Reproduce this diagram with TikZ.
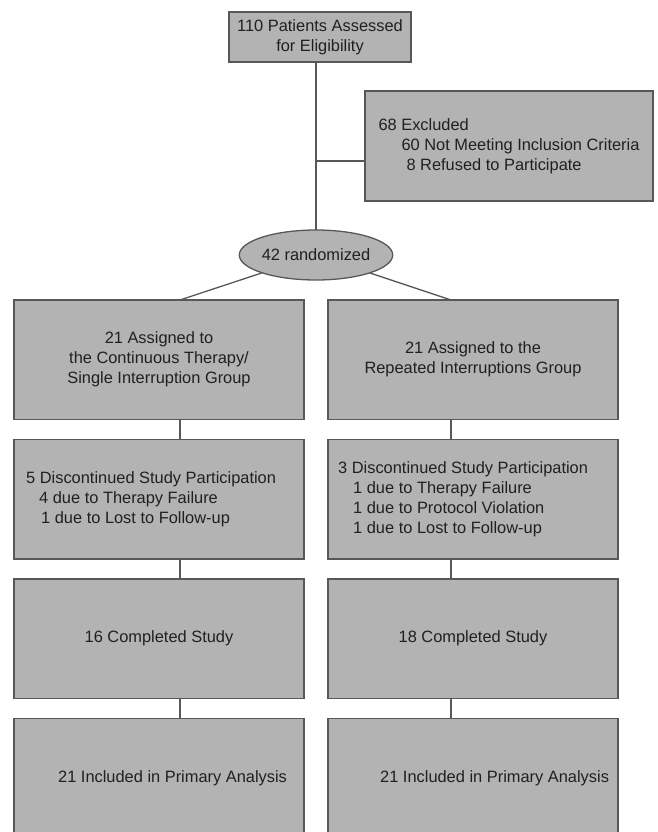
\documentclass[tikz,border=0pt]{standalone}
\usepackage{fontspec}
\setmainfont{Liberation Sans}
\usetikzlibrary{positioning,shapes.geometric,calc}
\definecolor{boxgray}{RGB}{179,179,179}
\definecolor{edgegray}{RGB}{88,88,88}
\definecolor{inkgray}{RGB}{32,32,32}
\tikzset{
    block/.style={
        draw=edgegray,
        fill=boxgray,
        rectangle,
        line width=1.3pt,
        outer sep=0pt,
        minimum width=290pt,
        minimum height=119.5pt,
        align=center,
        text=inkgray
    },
    oval/.style={
        draw=edgegray,
        fill=boxgray,
        ellipse,
        line width=1.3pt,
        outer sep=0pt,
        inner sep=0pt,
        minimum width=138pt,
        minimum height=50pt,
        text=inkgray
    },
    blocktext/.style={
        inner sep=0pt,
        align=left,
        anchor=west,
        text=inkgray
    },
    link/.style={
        draw=edgegray,
        line width=1.3pt
    },
}

\begin{document}
\begin{tikzpicture}[x=1pt, y=-1pt, node distance=20pt and 24pt, font=\fontsize{16.4pt}{20pt}\selectfont]
        \clip (0,0) rectangle (657,832);

        % blocks
        \node[block, minimum width=182pt, minimum height=50pt] (assess) at (320,37) {110 Patients Assessed\\for Eligibility};
        \node[block, minimum width=288pt, minimum height=110pt, align=left] (excl) at (509,146) {68 Excluded\\\hspace*{23pt}60 Not Meeting Inclusion Criteria\\\hspace*{28pt}8 Refused to Participate};
        \node[oval] (rand) at (316,255) {42 randomized};

        \node[block] (assignL) at (159,359.75) {21 Assigned to\\the Continuous Therapy/\\Single Interruption Group};
        \node[block, right=24pt of assignL] (assignR) {21 Assigned to the\\Repeated Interruptions Group};
        \node[block, below=of assignL] (discL) {};
        \node[block, below=of assignR] (discR) {};
        \node[block, below=of discL] (doneL) {16 Completed Study};
        \node[block, below=of discR] (doneR) {18 Completed Study};
        \node[block, below=of doneL] (inclL) {};
        \node[block, below=of doneR] (inclR) {};

        % texts set off the centre
        \node[blocktext] (discLtext) at ([xshift=12pt]discL.west) {5 Discontinued Study Participation\\\hspace*{13pt}4 due to Therapy Failure\\\hspace*{15pt}1 due to Lost to Follow-up};
        \node[blocktext] (discRtext) at ([xshift=10pt]discR.west) {3 Discontinued Study Participation\\\hspace*{15pt}1 due to Therapy Failure\\\hspace*{15pt}1 due to Protocol Violation\\\hspace*{15pt}1 due to Lost to Follow-up};
        \node[blocktext] (inclLtext) at ([xshift=44pt]inclL.west) {21 Included in Primary Analysis};
        \node[blocktext] (inclRtext) at ([xshift=52pt]inclR.west) {21 Included in Primary Analysis};

        % connector coordinates
        \coordinate (exclin) at ([yshift=-15pt]excl.west);
        \coordinate (spineL) at ([xshift=21pt]assignL.north);
        \coordinate (spineR) at ([xshift=-22pt]assignR.north);

        % lines
        \draw[link] (assess.south -| rand.north) -- (rand.north);
        \draw[link] (rand.north |- exclin) -- (exclin);
        \draw[link] (rand) -- (spineL);
        \draw[link] (rand) -- (spineR);
        \foreach \u/\v in {assignL/discL, discL/doneL, doneL/inclL}
            \draw[link] (\u.south -| spineL) -- (\v.north -| spineL);
        \foreach \u/\v in {assignR/discR, discR/doneR, doneR/inclR}
            \draw[link] (\u.south -| spineR) -- (\v.north -| spineR);
    \end{tikzpicture}
\end{document}
